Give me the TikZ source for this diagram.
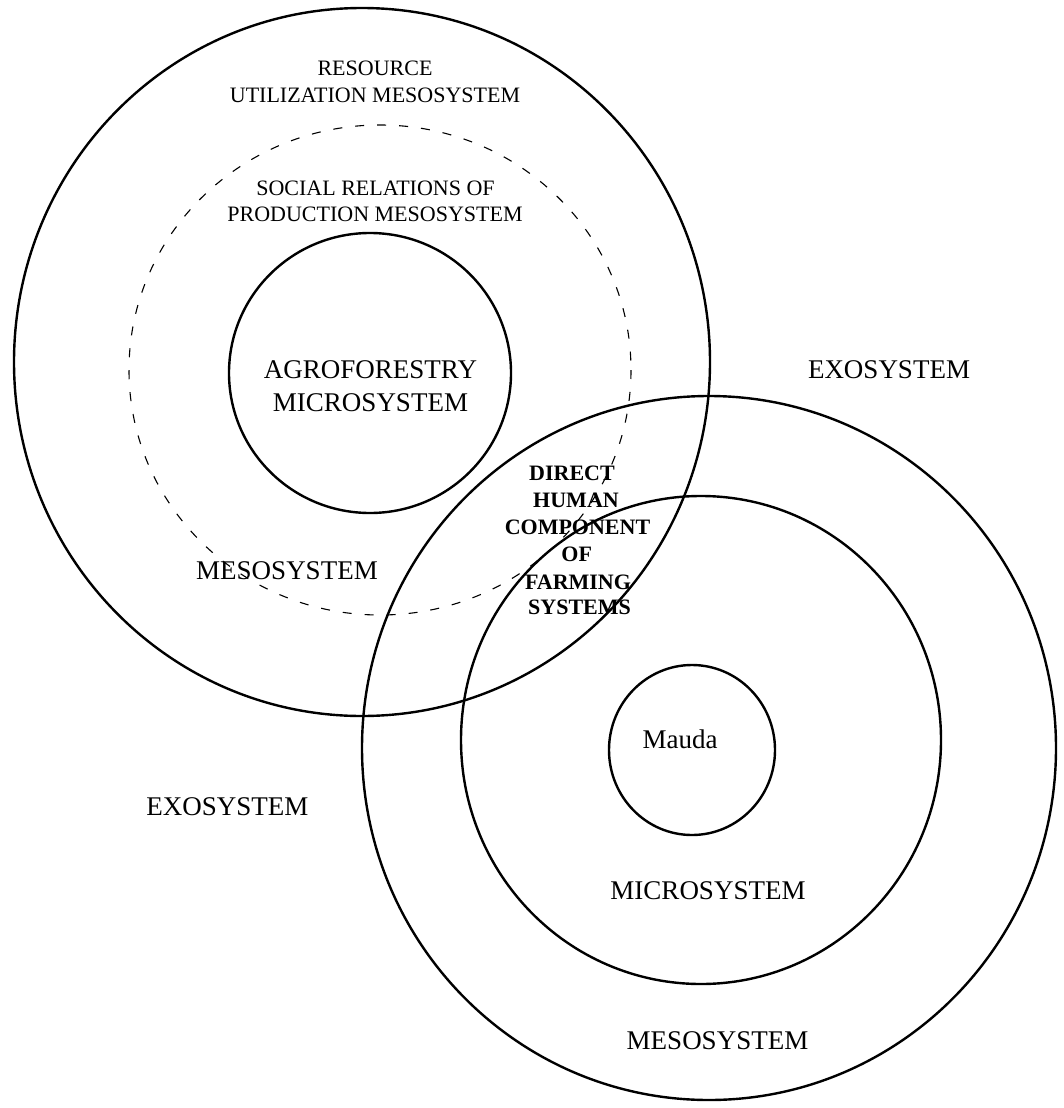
\documentclass[tikz,border=0pt]{standalone}
\usepackage{fontspec}
\setmainfont{Liberation Serif}
\begin{document}
\begin{tikzpicture}[x=1pt,y=-1pt,
  ring/.style={line width=2.4pt},
  dashring/.style={line width=1.1pt, dash pattern=on 9pt off 13pt},
  lbl/.style={anchor=base, inner sep=0pt, font=\fontsize{22}{26}\selectfont},
  biglbl/.style={anchor=base, inner sep=0pt, font=\fontsize{27}{33}\selectfont},
  boldlbl/.style={anchor=base, inner sep=0pt, font=\fontsize{22}{27}\selectfont\bfseries}]
\useasboundingbox (0,0) rectangle (1063,1108);
% circles
\draw[ring] (362,362) ellipse [x radius=348, y radius=354];
\draw[dashring] (380,370) ellipse [x radius=251, y radius=245];
\draw[ring] (370,373) ellipse [x radius=141, y radius=140];
\draw[ring] (709,748) ellipse [x radius=347, y radius=352];
\draw[ring] (701,740) ellipse [x radius=240, y radius=244];
\draw[ring] (692,750) ellipse [x radius=83, y radius=85];
% texts
\node[lbl] (res1) at (375,75) {RESOURCE};
\node[lbl] (res2) at (375,102.5) {UTILIZATION MESOSYSTEM};
\node[lbl] (soc1) at (375.5,195) {SOCIAL RELATIONS OF};
\node[lbl] (soc2) at (375,221.5) {PRODUCTION MESOSYSTEM};
\node[biglbl] (agro1) at (370.5,378) {AGROFORESTRY};
\node[biglbl] (agro2) at (370.5,411.5) {MICROSYSTEM};
\node[biglbl] (mesoL) at (287,579) {MESOSYSTEM};
\node[biglbl] (exoR) at (889,378) {EXOSYSTEM};
\node[biglbl] (exoL) at (227.5,815) {EXOSYSTEM};
\node[biglbl] (mauda) at (680,748) {Mauda};
\node[biglbl] (microB) at (708,899) {MICROSYSTEM};
\node[biglbl] (mesoB) at (717.5,1049) {MESOSYSTEM};
\node[boldlbl] (d1) at (572,480) {DIRECT};
\node[boldlbl] (d2) at (576,507.5) {HUMAN};
\node[boldlbl] (d3) at (577.5,534) {COMPONENT};
\node[boldlbl] (d4) at (576.7,561) {OF};
\node[boldlbl] (d5) at (578,589.5) {FARMING};
\node[boldlbl] (d6) at (579.5,614.5) {SYSTEMS};
\end{tikzpicture}
\end{document}
